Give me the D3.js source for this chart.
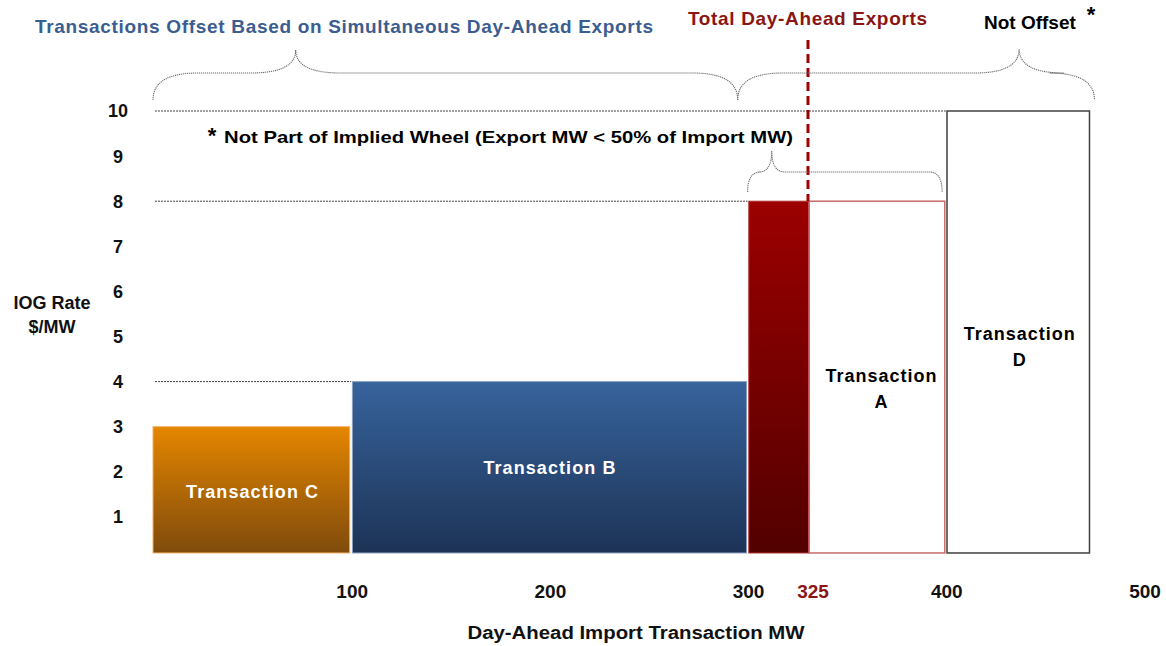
<!DOCTYPE html>
<html><head><meta charset="utf-8">
<script src="https://cdn.jsdelivr.net/npm/d3@7"></script>
<style>
html,body{margin:0;padding:0;background:#fff;}
svg{display:block;font-family:"Liberation Sans",Arial,sans-serif;font-weight:bold;}
</style></head>
<body>
<svg id="chart" width="1166" height="646"></svg>
<script>
// ---- data ----
const transactions = ["Transaction C", "Transaction B", "Exports", "Transaction A", "Transaction D"];
const startMW      = [0, 100, 300, 325, 400];
const endMW        = [100, 300, 325, 400, 473];
const rateIOG      = [3, 4, 8, 8, 10];
const barBase      = 0.2;
const xTickValues  = [100, 200, 300, 325, 400, 500];
const xTickLabels  = ["100", "200", "300", "325", "400", "500"];
const yTickValues  = [1, 2, 3, 4, 5, 6, 7, 8, 9, 10];
const exportsMW    = 325;
const gridRates    = [10, 8, 4];
const gridEndMW    = [400, 300, 100];
// braces: [startMW, endMW, cuspMW]
const braceBig     = [0, 295, 72];
const braceNotOff  = [295, 475, 437];
const braceSmall   = [300, 398, 310];

// ---- scales ----
const svg = d3.select("#chart");
const x = d3.scaleLinear().domain([0, 300, 325, 400, 500]).range([153, 747.6, 808, 945.8, 1144]);
const y = d3.scaleLinear().domain([0, 10]).range([562, 111]);

// ---- gradients ----
const defs = svg.append("defs");
function grad(id, top, bottom) {
  const g = defs.append("linearGradient").attr("id", id).attr("x1", 0).attr("y1", 0).attr("x2", 0).attr("y2", 1);
  g.append("stop").attr("offset", "0%").attr("stop-color", top);
  g.append("stop").attr("offset", "100%").attr("stop-color", bottom);
}
grad("gC", "#e58600", "#7f4b0c");
grad("gB", "#37639c", "#1d3356");
grad("gR", "#9c0000", "#520000");

const fills   = ["url(#gC)", "url(#gB)", "url(#gR)", "#ffffff", "#ffffff"];
const strokes = ["#f0b060", "#8aa0c0", "#b03030", "#c86a6a", "#404040"];
const strokeW = [1, 1, 1, 1.5, 1.5];

// ---- gridlines ----
svg.selectAll("line.grid").data(gridRates).enter().append("line")
  .attr("x1", x(0) + 2).attr("x2", (d, i) => x(gridEndMW[i]))
  .attr("y1", d => y(d)).attr("y2", d => y(d))
  .attr("stroke", "#444").attr("stroke-width", 1).attr("stroke-dasharray", "2,1");

// ---- bars ----
svg.selectAll("rect.bar").data(transactions).enter().append("rect")
  .attr("x", (d, i) => x(startMW[i]) + (i === 0 ? 0 : 1.2))
  .attr("width", (d, i) => x(endMW[i]) - x(startMW[i]) - (i === 0 ? 1.5 : 2.2) + (i === 2 ? 1.5 : 0))
  .attr("y", (d, i) => y(rateIOG[i]))
  .attr("height", (d, i) => y(barBase) - y(rateIOG[i]))
  .attr("fill", (d, i) => fills[i])
  .attr("stroke", (d, i) => strokes[i])
  .attr("stroke-width", (d, i) => strokeW[i]);

// ---- dashed exports line ----
svg.append("line")
  .attr("x1", x(exportsMW)).attr("x2", x(exportsMW))
  .attr("y1", 40).attr("y2", y(8))
  .attr("stroke", "#a00000").attr("stroke-width", 3).attr("stroke-dasharray", "9,5");

// ---- braces ----
function brace(b, yEnd, yMid, yTop, r) {
  const x0 = x(b[0]), x1 = x(b[1]), xm = x(b[2]);
  const p = `M${x0},${yEnd} Q${x0},${yMid} ${x0 + r},${yMid} L${xm - r},${yMid} Q${xm},${yMid} ${xm},${yTop}` +
            ` Q${xm},${yMid} ${xm + r},${yMid} L${x1 - r},${yMid} Q${x1},${yMid} ${x1},${yEnd}`;
  svg.append("path").attr("d", p).attr("fill", "none")
    .attr("stroke", "#6a6a6a").attr("stroke-width", 1.1).attr("stroke-dasharray", "1.2,0.8");
}
brace(braceBig, 100, 73, 50, 45);
brace(braceNotOff, 100, 73, 49, 45);
brace(braceSmall, 192, 172, 151, 13);

// ---- y ticks ----
svg.selectAll("text.ytick").data(yTickValues).enter().append("text")
  .attr("x", 118).attr("y", d => y(d)).attr("dy", "0.36em")
  .attr("text-anchor", "middle").attr("font-size", 18).attr("fill", "#111")
  .text(d => d);

// ---- x ticks ----
svg.selectAll("text.xtick").data(xTickValues).enter().append("text")
  .attr("x", (d, i) => x(d) + (d === exportsMW ? 5 : 1)).attr("y", 598)
  .attr("text-anchor", "middle").attr("font-size", 19)
  .attr("fill", d => d === exportsMW ? "#8b1414" : "#111")
  .text((d, i) => xTickLabels[i]);

// ---- axis titles ----
svg.append("text").attr("x", 636).attr("y", 639).attr("text-anchor", "middle")
  .attr("font-size", 18).attr("fill", "#111").attr("textLength", 337).attr("lengthAdjust", "spacingAndGlyphs")
  .text("Day-Ahead Import Transaction MW");
svg.append("text").attr("x", 52).attr("y", 309).attr("text-anchor", "middle")
  .attr("font-size", 18).attr("fill", "#111").text("IOG Rate");
svg.append("text").attr("x", 52).attr("y", 333).attr("text-anchor", "middle")
  .attr("font-size", 18).attr("fill", "#111").text("$/MW");

// ---- bar labels ----
function label(lines, cx, cy, color, widths) {
  const t = svg.append("text").attr("text-anchor", "middle").attr("font-size", 18).attr("fill", color);
  lines.forEach((l, k) => {
    const s = t.append("tspan").attr("x", cx).attr("y", cy + k * 26).text(l);
    if (widths[k]) s.attr("textLength", widths[k]).attr("lengthAdjust", "spacing");
  });
}
label(["Transaction C"], (x(startMW[0]) + x(endMW[0])) / 2, 498, "#fff", [132]);
label(["Transaction B"], (x(startMW[1]) + x(endMW[1])) / 2, 474, "#fff", [132]);
label(["Transaction", "A"], (x(startMW[3]) + x(endMW[3])) / 2 + 4, 382, "#000", [111, 0]);
label(["Transaction", "D"], (x(startMW[4]) + x(endMW[4])) / 2 + 1, 340, "#000", [111, 0]);

// ---- header texts ----
svg.append("text").attr("x", 35).attr("y", 33).attr("font-size", 19).attr("fill", "#3b5d90")
  .attr("textLength", 618).attr("lengthAdjust", "spacing")
  .text("Transactions Offset Based on Simultaneous Day-Ahead Exports");
svg.append("text").attr("x", 688).attr("y", 25).attr("font-size", 19).attr("fill", "#8b1414")
  .attr("textLength", 239).attr("lengthAdjust", "spacing")
  .text("Total Day-Ahead Exports");
svg.append("text").attr("x", 984).attr("y", 29).attr("font-size", 19).attr("fill", "#000")
  .text("Not Offset");
svg.append("text").attr("x", 1091).attr("y", 22).attr("text-anchor", "middle").attr("font-size", 22).attr("fill", "#000")
  .text("*");
svg.append("text").attr("x", 212).attr("y", 143).attr("text-anchor", "middle").attr("font-size", 22).attr("fill", "#000")
  .text("*");
svg.append("text").attr("x", 224).attr("y", 143).attr("font-size", 17).attr("fill", "#000")
  .attr("textLength", 569).attr("lengthAdjust", "spacingAndGlyphs")
  .text("Not Part of Implied Wheel (Export MW < 50% of Import MW)");
</script>
</body></html>
